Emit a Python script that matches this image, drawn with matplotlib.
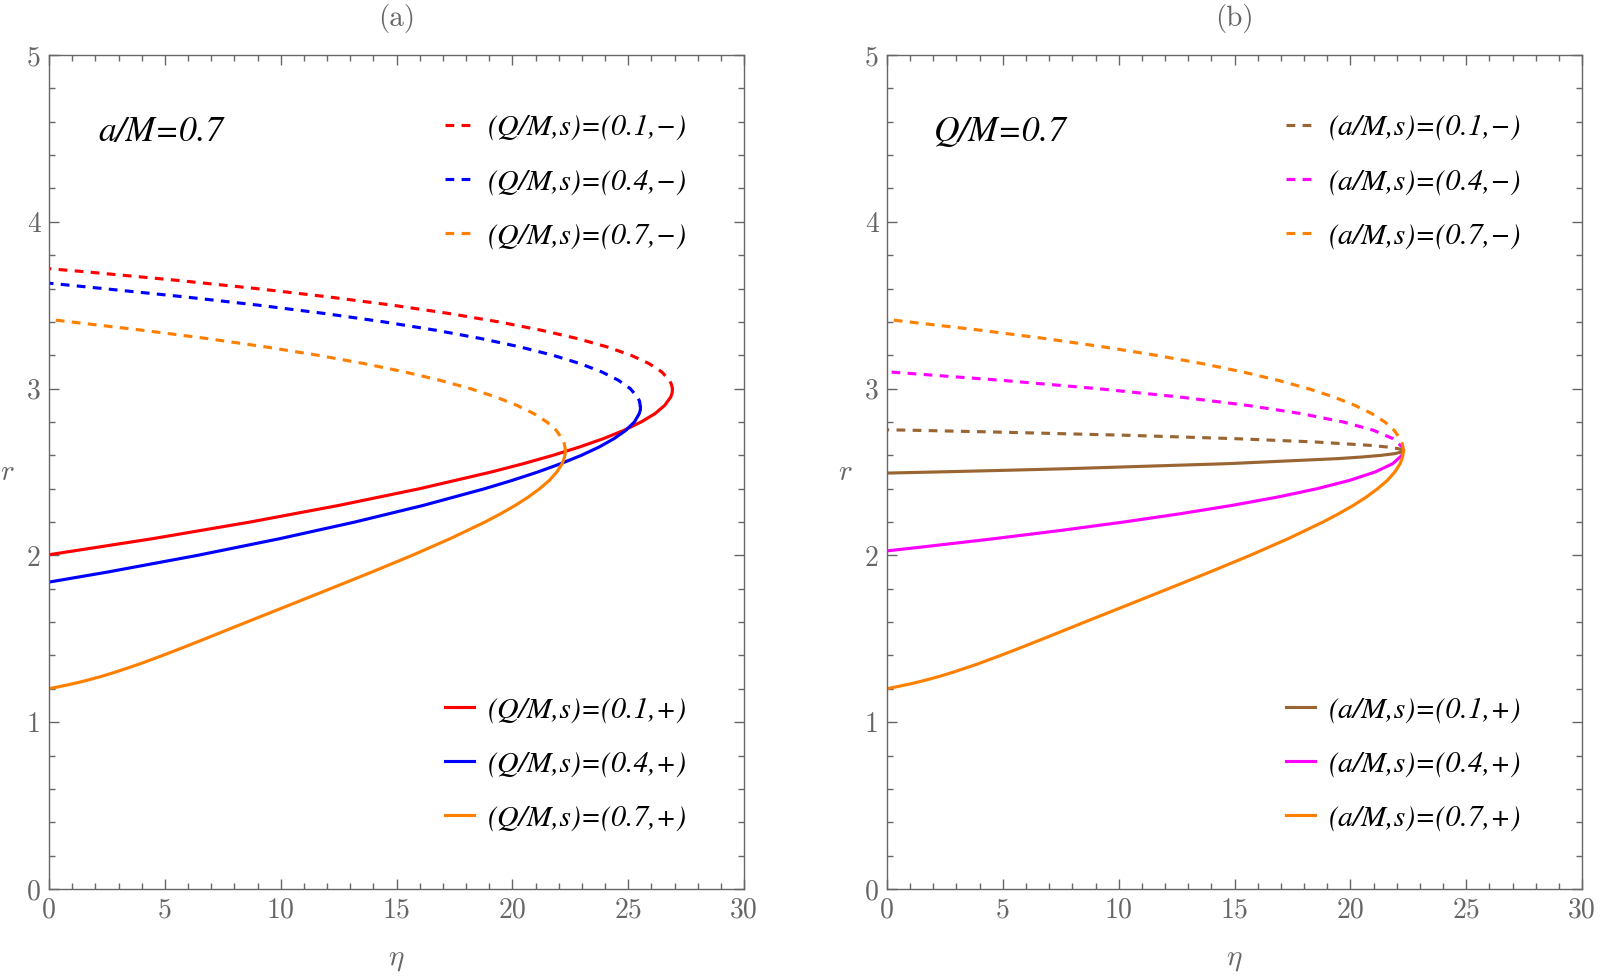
import matplotlib
matplotlib.use("Agg")
import matplotlib.pyplot as plt
from matplotlib.ticker import MultipleLocator
from matplotlib.font_manager import FontProperties

plt.rcParams['mathtext.fontset'] = 'cm'
plt.rcParams['axes.formatter.use_mathtext'] = True

# ---------------- data (eta, r) ----------------
# Panel (a): a/M = 0.7
eta_q01_p = [0.0, 4.46, 8.68, 12.52, 16.00, 19.09, 20.48, 21.75, 22.90, 23.93, 24.82, 25.56, 26.16, 26.58, 26.84, 26.90, 26.91]
r_q01_p   = [2.004, 2.1, 2.2, 2.3, 2.4, 2.5, 2.55, 2.6, 2.65, 2.7, 2.75, 2.8, 2.85, 2.9, 2.95, 2.975, 2.993]
eta_q01_m = [26.91, 26.91, 26.87, 26.78, 26.45, 25.90, 25.12, 24.09, 22.81, 21.25, 19.41, 17.28, 14.83, 12.05, 8.94, 5.46, 1.61, 0.0]
r_q01_m   = [2.993, 3.0, 3.025, 3.05, 3.1, 3.15, 3.2, 3.25, 3.3, 3.35, 3.4, 3.45, 3.5, 3.55, 3.6, 3.65, 3.7, 3.719]

eta_q04_p = [0.0, 2.52, 6.40, 9.95, 13.20, 16.16, 18.81, 20.00, 21.10, 22.09, 22.98, 23.75, 24.39, 24.90, 25.27, 25.48, 25.53, 25.53]
r_q04_p   = [1.84, 1.9, 2.0, 2.1, 2.2, 2.3, 2.4, 2.45, 2.5, 2.55, 2.6, 2.65, 2.7, 2.75, 2.8, 2.85, 2.875, 2.889]
eta_q04_m = [25.53, 25.49, 25.40, 25.09, 24.58, 23.86, 22.92, 21.75, 20.33, 18.65, 16.69, 14.45, 11.91, 9.05, 5.85, 2.32, 0.0]
r_q04_m   = [2.889, 2.925, 2.95, 3.0, 3.05, 3.1, 3.15, 3.2, 3.25, 3.3, 3.35, 3.4, 3.45, 3.5, 3.55, 3.6, 3.632]

eta_q07_p = [0.0, 0.14, 0.33, 0.68, 1.01, 1.32, 1.61, 2.27, 2.86, 3.93, 4.90, 5.83, 6.74, 8.53, 10.34, 12.14,
             13.93, 15.67, 17.31, 18.82, 19.50, 20.13, 20.69, 21.18, 21.60, 21.92, 22.15, 22.22, 22.27, 22.29]
r_q07_p   = [1.2015, 1.205, 1.21, 1.22, 1.23, 1.24, 1.25, 1.275, 1.3, 1.35, 1.4, 1.45, 1.5, 1.6, 1.7, 1.8,
             1.9, 2.0, 2.1, 2.2, 2.25, 2.3, 2.35, 2.4, 2.45, 2.5, 2.55, 2.575, 2.6, 2.627]
eta_q07_m = [22.29, 22.27, 22.23, 22.15, 21.89, 21.49, 20.93, 20.19, 19.28, 18.18, 16.87, 15.35, 13.60, 11.60, 9.35, 6.83, 4.03, 0.93, 0.0]
r_q07_m   = [2.627, 2.65, 2.675, 2.7, 2.75, 2.8, 2.85, 2.9, 2.95, 3.0, 3.05, 3.1, 3.15, 3.2, 3.25, 3.3, 3.35, 3.4, 3.415]

# Panel (b): Q/M = 0.7
eta_a01_p = [0.0, 2.08, 5.07, 7.83, 14.71, 19.43, 20.51, 21.34, 21.91, 22.22, 22.28]
r_a01_p   = [2.4935, 2.5, 2.51, 2.52, 2.55, 2.58, 2.59, 2.6, 2.61, 2.62, 2.627]
eta_a01_m = [22.28, 22.20, 22.06, 21.58, 20.82, 18.48, 15.01, 10.38, 4.56, 1.20, 0.0]
r_a01_m   = [2.627, 2.635, 2.64, 2.65, 2.66, 2.68, 2.7, 2.72, 2.74, 2.75, 2.753]

eta_a04_p = [0.0, 1.49, 4.61, 7.52, 10.21, 12.67, 14.90, 16.87, 18.57, 19.97, 21.07, 21.83, 22.23, 22.29]
r_a04_p   = [2.027, 2.05, 2.1, 2.15, 2.2, 2.25, 2.3, 2.35, 2.4, 2.45, 2.5, 2.55, 2.6, 2.627]
eta_a04_m = [22.29, 22.24, 21.84, 21.00, 19.69, 17.88, 15.53, 12.61, 9.08, 4.92, 0.0]
r_a04_m   = [2.627, 2.65, 2.7, 2.75, 2.8, 2.85, 2.9, 2.95, 3.0, 3.05, 3.101]

eta_a07_p = eta_q07_p
r_a07_p   = r_q07_p
eta_a07_m = eta_q07_m
r_a07_m   = r_q07_m

labels_a_minus = ['(Q/M,s)=(0.1,−)', '(Q/M,s)=(0.4,−)', '(Q/M,s)=(0.7,−)']
labels_a_plus  = ['(Q/M,s)=(0.1,+)', '(Q/M,s)=(0.4,+)', '(Q/M,s)=(0.7,+)']
labels_b_minus = ['(a/M,s)=(0.1,−)', '(a/M,s)=(0.4,−)', '(a/M,s)=(0.7,−)']
labels_b_plus  = ['(a/M,s)=(0.1,+)', '(a/M,s)=(0.4,+)', '(a/M,s)=(0.7,+)']

x_ticks = [0, 5, 10, 15, 20, 25, 30]
y_ticks = [0, 1, 2, 3, 4, 5]

colors_a = ['#ff0000', '#0000ff', '#ff8000']
colors_b = ['#996633', '#ff00ff', '#ff8000']

# ---------------- styling ----------------
GRAY = '#666666'
LW = 2.25
DASH = (2.8, 2.35)
leg_font = FontProperties(family='STIXGeneral', style='italic', size=21.5)
ann_font = FontProperties(family='STIXGeneral', style='italic', size=25.5)

fig = plt.figure(figsize=(16, 9.77), dpi=100)
ax1 = fig.add_axes([49/1600, 1-889/977, 695/1600, 834/977])
ax2 = fig.add_axes([887/1600, 1-889/977, 695/1600, 834/977])


def style_axes(ax, title):
    ax.set_xlim(0, 30)
    ax.set_ylim(0, 5)
    ax.set_xticks(x_ticks)
    ax.set_yticks(y_ticks)
    ax.set_xticklabels([str(v) for v in x_ticks], fontfamily='cmr10', fontsize=20, color=GRAY)
    ax.set_yticklabels([str(v) for v in y_ticks], fontfamily='cmr10', fontsize=20, color=GRAY)
    ax.xaxis.set_minor_locator(MultipleLocator(1))
    ax.yaxis.set_minor_locator(MultipleLocator(0.2))
    ax.tick_params(which='both', direction='in', top=True, right=True, color=GRAY, width=1.0)
    ax.tick_params(which='major', length=7.5)
    ax.tick_params(which='minor', length=4)
    ax.tick_params(axis='x', which='major', pad=6)
    ax.tick_params(axis='y', which='major', pad=6)
    for s in ax.spines.values():
        s.set_color(GRAY)
        s.set_linewidth(1.0)
    ax.text(0.5, 1.044, title, transform=ax.transAxes, ha='center', va='center',
            fontfamily='cmr10', fontsize=21, color=GRAY)
    ax.text(-0.060, 0.5, r'$r$', transform=ax.transAxes, ha='center', va='center',
            fontsize=21, color=GRAY)
    ax.text(0.5, -0.084, r'$\eta$', transform=ax.transAxes, ha='center', va='center',
            fontsize=21, color=GRAY)


def draw_panel(ax, curves, colors, lab_minus, lab_plus, leg_x):
    h_minus, h_plus = [], []
    for (em, rm, ep, rp), c in zip(curves, colors):
        lm, = ax.plot(em, rm, color=c, lw=LW, dashes=DASH)
        lp, = ax.plot(ep, rp, color=c, lw=LW)
        h_minus.append(lm)
        h_plus.append(lp)
    kw = dict(loc='center left', frameon=False, prop=leg_font, handlelength=0.97,
              handletextpad=0.47, labelspacing=0.91, borderpad=0, borderaxespad=0)
    leg1 = ax.legend(h_minus, lab_minus, bbox_to_anchor=(leg_x, 0.848), **kw)
    ax.add_artist(leg1)
    ax.legend(h_plus, lab_plus, bbox_to_anchor=(leg_x, 0.150), **kw)


style_axes(ax1, '(a)')
style_axes(ax2, '(b)')

draw_panel(ax1,
           [(eta_q01_m, r_q01_m, eta_q01_p, r_q01_p),
            (eta_q04_m, r_q04_m, eta_q04_p, r_q04_p),
            (eta_q07_m, r_q07_m, eta_q07_p, r_q07_p)],
           colors_a, labels_a_minus, labels_a_plus, 0.570)
draw_panel(ax2,
           [(eta_a01_m, r_a01_m, eta_a01_p, r_a01_p),
            (eta_a04_m, r_a04_m, eta_a04_p, r_a04_p),
            (eta_a07_m, r_a07_m, eta_a07_p, r_a07_p)],
           colors_b, labels_b_minus, labels_b_plus, 0.574)

ax1.text(0.0705, 0.908, 'a/M=0.7', transform=ax1.transAxes, ha='left', va='center',
         fontproperties=ann_font, color='black')
ax2.text(0.067, 0.908, 'Q/M=0.7', transform=ax2.transAxes, ha='left', va='center',
         fontproperties=ann_font, color='black')

fig.savefig('out.png', dpi=100)
